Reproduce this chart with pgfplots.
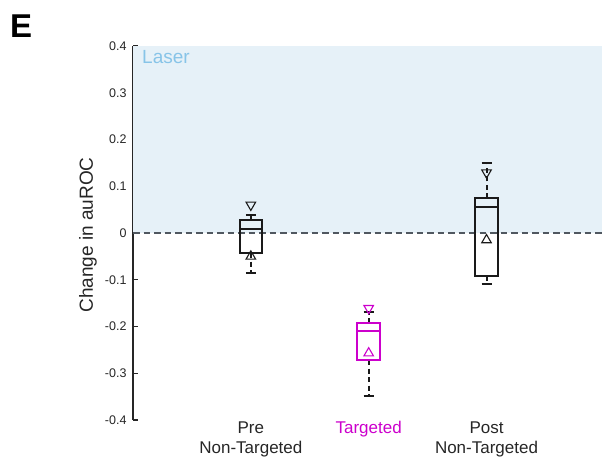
\documentclass[border=0pt]{standalone}
\usepackage{fontspec}
\setmainfont{Liberation Sans}
\usepackage{pgfplots}
\pgfplotsset{compat=1.18}

\definecolor{lasershade}{RGB}{230,241,248}
\definecolor{lasertext}{RGB}{135,196,232}
\definecolor{tgt}{RGB}{204,0,204}
\definecolor{ink}{RGB}{26,26,26}
\definecolor{axisgray}{RGB}{38,38,38}
\definecolor{zeroline}{RGB}{80,88,96}

\pgfplotsset{
  boxline/.style={line width=2pt, solid},
  whisk/.style={line width=2pt, dash pattern=on 5pt off 3.5pt},
}

\begin{document}
\begin{tikzpicture}
\useasboundingbox (0,0) rectangle (602pt,462pt);
\node[anchor=base west, inner sep=0pt, font=\fontsize{33}{36}\selectfont\bfseries] at (10pt,424pt) {E};
\begin{axis}[
  at={(133pt,42pt)}, anchor=south west,
  scale only axis, width=469pt, height=374pt,
  xmin=0, xmax=3.98, ymin=-0.4, ymax=0.4,
  clip=false,
  axis y line*=left, axis x line*=bottom,
  x axis line style={draw=none},
  y axis line style={axisgray, line width=1.8pt},
  ytick={-0.4,-0.3,-0.2,-0.1,0,0.1,0.2,0.3,0.4},
  tick align=inside,
  major tick length=5pt,
  y tick style={axisgray, line width=1.4pt},
  x tick style={draw=none},
  yticklabel style={font=\fontsize{12.5}{14}\selectfont, text=axisgray,
    /pgf/number format/.cd, fixed, precision=1, assume math mode=true},
  yticklabel shift=3pt,
  xtick={1,2,3},
  xticklabels={{Pre\\Non-Targeted},{\textcolor{tgt}{Targeted}},{Post\\Non-Targeted}},
  xticklabel style={align=center, font=\fontsize{17}{20.5}\selectfont, text=axisgray,
    anchor=north, yshift=2pt},
  ylabel={Change in auROC},
  ylabel style={at={(axis description cs:-0.096,0.495)}, anchor=center,
    font=\fontsize{19}{22}\selectfont, text=axisgray},
]
% laser-on region above zero
\addplot[fill=lasershade, draw=none] coordinates {(0,0) (3.98,0) (3.98,0.4) (0,0.4)} -- cycle;
\node[anchor=base west, inner sep=0pt, text=lasertext, font=\fontsize{19}{22}\selectfont]
  at (rel axis cs:0,1) [xshift=9pt, yshift=-18pt] {Laser};
% zero reference
\addplot[zeroline, line width=1.3pt, dash pattern=on 6.5pt off 4pt] coordinates {(0,0) (3.98,0)};

% ---- Pre non-targeted: whiskers -0.086 / 0.0385, quartiles -0.043 / 0.028, median 0.008
\addplot[ink, whisk] coordinates {(1,0.028) (1,0.0385)};
\addplot[ink, whisk] coordinates {(1,-0.043) (1,-0.086)};
\addplot[ink, boxline] coordinates {(0.9575,0.0385) (1.0425,0.0385)};
\addplot[ink, boxline] coordinates {(0.9575,-0.086) (1.0425,-0.086)};
\addplot[ink, boxline] coordinates {(0.905,-0.043) (1.095,-0.043) (1.095,0.028) (0.905,0.028)} -- cycle;
\addplot[ink, boxline] coordinates {(0.905,0.008) (1.095,0.008)};

% ---- Targeted: whiskers -0.349 / -0.170, quartiles -0.272 / -0.193, median -0.209
\addplot[ink, whisk] coordinates {(2,-0.193) (2,-0.170)};
\addplot[ink, whisk] coordinates {(2,-0.272) (2,-0.349)};
\addplot[ink, boxline] coordinates {(1.9575,-0.170) (2.0425,-0.170)};
\addplot[ink, boxline] coordinates {(1.9575,-0.349) (2.0425,-0.349)};
\addplot[tgt, boxline] coordinates {(1.905,-0.272) (2.095,-0.272) (2.095,-0.193) (1.905,-0.193)} -- cycle;
\addplot[tgt, boxline] coordinates {(1.905,-0.209) (2.095,-0.209)};

% ---- Post non-targeted: whiskers -0.109 / 0.149, quartiles -0.092 / 0.074, median 0.056
\addplot[ink, whisk] coordinates {(3,0.074) (3,0.149)};
\addplot[ink, whisk] coordinates {(3,-0.092) (3,-0.109)};
\addplot[ink, boxline] coordinates {(2.9575,0.149) (3.0425,0.149)};
\addplot[ink, boxline] coordinates {(2.9575,-0.109) (3.0425,-0.109)};
\addplot[ink, boxline] coordinates {(2.905,-0.092) (3.095,-0.092) (3.095,0.074) (2.905,0.074)} -- cycle;
\addplot[ink, boxline] coordinates {(2.905,0.056) (3.095,0.056)};

% means (up triangles)
\addplot[only marks, mark=triangle, mark size=5.5pt,
  mark options={ink, solid, line width=1.1pt, fill=none}] coordinates {(1,-0.05) (3,-0.015)};
\addplot[only marks, mark=triangle, mark size=5.5pt,
  mark options={tgt, solid, line width=1.1pt, fill=none}] coordinates {(2,-0.257)};
% maxima (down triangles)
\addplot[only marks, mark=triangle, mark size=5.5pt,
  mark options={ink, solid, line width=1.1pt, fill=none, rotate=180}] coordinates {(1,0.06) (3,0.129)};
\addplot[only marks, mark=triangle, mark size=5.5pt,
  mark options={tgt, solid, line width=1.1pt, fill=none, rotate=180}] coordinates {(2,-0.161)};
\end{axis}
\end{tikzpicture}
\end{document}
